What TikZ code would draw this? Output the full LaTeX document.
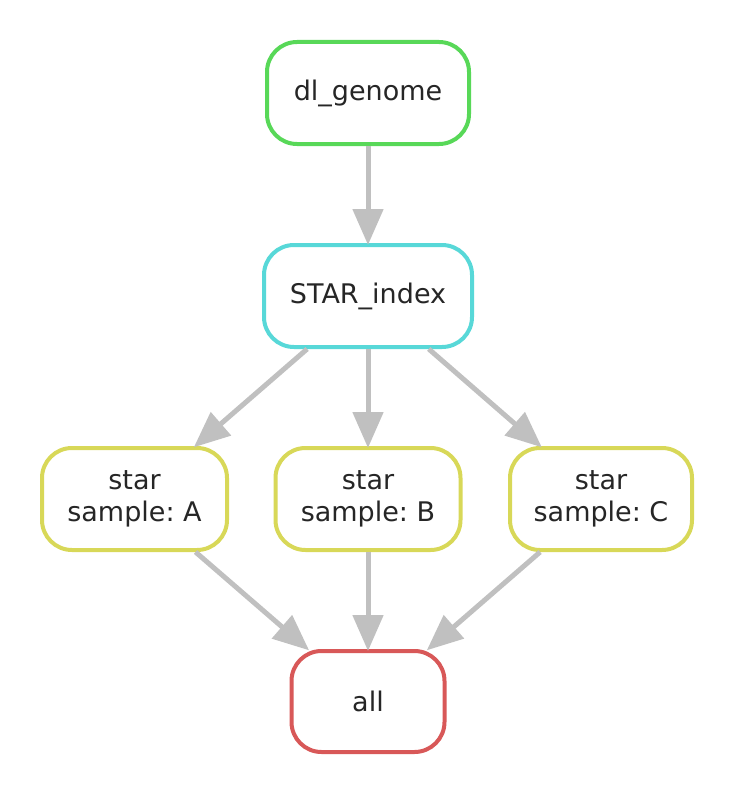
\documentclass[tikz,border=0pt]{standalone}
\usepackage{fontspec}
\setmainfont{DejaVu Sans}
\usetikzlibrary{arrows.meta}
\definecolor{cgreen}{HTML}{58D858}
\definecolor{ccyan}{HTML}{58D8D8}
\definecolor{cyellow}{HTML}{D8D858}
\definecolor{cred}{HTML}{D85858}
\definecolor{cedge}{HTML}{C0C0C0}
\frenchspacing
\begin{document}
\begin{tikzpicture}[x=1pt,y=-1pt,
  job/.style={draw, line width=4pt, rounded corners=30pt, fill=white, align=center,
    inner sep=0pt, font=\fontsize{27}{32}\selectfont, text=black!85},
  edge/.style={draw=cedge, line width=5pt, shorten >=-2pt,
    -{Triangle[length=36pt,width=30pt,fill=cedge]}}]
\useasboundingbox (0,0) rectangle (746,792);
\node[job, draw=cgreen, minimum width=202pt, minimum height=102pt] (dl) at (368,93) {dl\_genome};
\node[job, draw=ccyan, minimum width=208pt, minimum height=102pt] (idx) at (368,296) {STAR\_index};
\node[job, draw=cyellow, minimum width=185pt, minimum height=102pt] (a) at (134.5,499) {star\\sample: A};
\node[job, draw=cyellow, minimum width=185pt, minimum height=102pt] (b) at (368,499) {star\\sample: B};
\node[job, draw=cyellow, minimum width=182pt, minimum height=102pt] (c) at (601,499) {star\\sample: C};
\node[job, draw=cred, minimum width=153pt, minimum height=101pt] (all) at (368,701.5) {all};
\path[edge] (dl) -- (idx);
\path[edge] (idx) -- (a);
\path[edge] (idx) -- (b);
\path[edge] (idx) -- (c);
\path[edge] (a) -- (all);
\path[edge] (b) -- (all);
\path[edge] (c) -- (all);
\end{tikzpicture}
\end{document}
